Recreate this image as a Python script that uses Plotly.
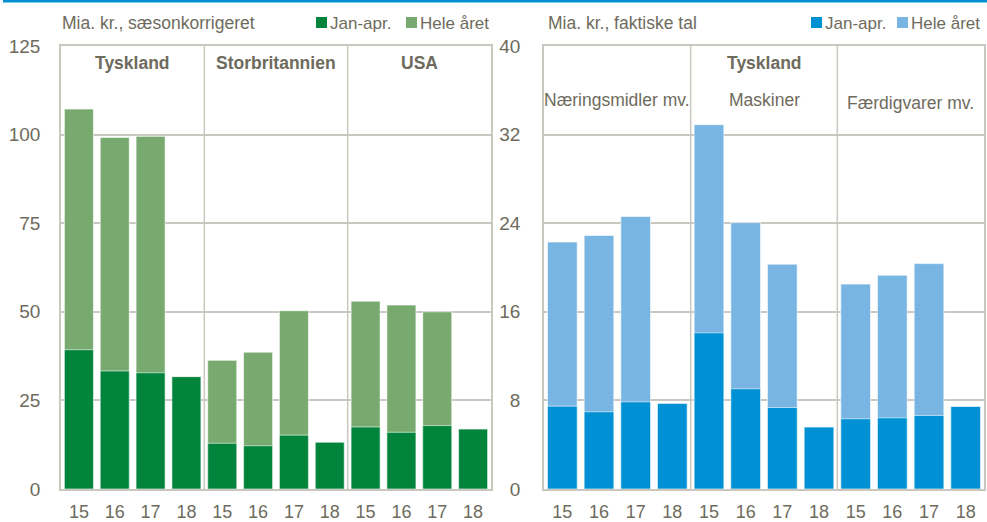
import plotly.graph_objects as go

# ---------------- data ----------------
years = ["15", "16", "17", "18"]
left_groups = ["Tyskland", "Storbritannien", "USA"]
left_hele = [107.2, 99.2, 99.5, None, 36.3, 38.6, 50.3, None, 53.0, 51.9, 50.0, None]
left_jan = [39.3, 33.3, 32.8, 31.7, 12.9, 12.2, 15.2, 13.2, 17.5, 16.0, 17.9, 16.9]

right_groups = ["Næringsmidler mv.", "Maskiner", "Færdigvarer mv."]
right_hele = [22.3, 22.9, 24.6, None, 32.9, 24.05, 20.3, None, 18.5, 19.3, 20.35, None]
right_jan = [7.48, 6.97, 7.87, 7.73, 14.1, 9.05, 7.36, 5.59, 6.34, 6.43, 6.64, 7.45]

left_ticks = [0, 25, 50, 75, 100, 125]
right_ticks = [0, 8, 16, 24, 32, 40]

series_names = ["Jan-apr.", "Hele året"]
left_title = "Mia. kr., sæsonkorrigeret"
right_title = "Mia. kr., faktiske tal"
right_super = "Tyskland"

# ---------------- style ----------------
W, H = 987, 522
FONT = "Liberation Sans Narrow, Arial Narrow, Liberation Sans, Arial, sans-serif"
TXT = "#6e6b5d"
GRID = "#c9c7be"
DKGREEN, LTGREEN = "#00843c", "#78aa6f"
DKBLUE, LTBLUE = "#0091d5", "#79b5e3"

def px(x):
    return x / W

def py(y):
    return 1 - y / H

xs = list(range(len(left_jan)))
ticktext = years * 3

fig = go.Figure()
bar_line = dict(color="rgba(255,255,255,0.6)", width=1)
fig.add_trace(go.Bar(x=xs, y=left_hele, marker=dict(color=LTGREEN, line=bar_line),
                     name=series_names[1], xaxis="x", yaxis="y", showlegend=False))
fig.add_trace(go.Bar(x=xs, y=left_jan, marker=dict(color=DKGREEN, line=bar_line),
                     name=series_names[0], xaxis="x", yaxis="y", showlegend=False))
fig.add_trace(go.Bar(x=xs, y=right_hele, marker=dict(color=LTBLUE, line=bar_line),
                     name=series_names[1], xaxis="x2", yaxis="y2", showlegend=False))
fig.add_trace(go.Bar(x=xs, y=right_jan, marker=dict(color=DKBLUE, line=bar_line),
                     name=series_names[0], xaxis="x2", yaxis="y2", showlegend=False))

ydom = [py(489), py(46)]
axis_common = dict(showline=True, linecolor=GRID, linewidth=1.5, mirror=True,
                   automargin=False)
xaxis_common = dict(axis_common, tickmode="array", tickvals=xs, ticktext=ticktext,
                    range=[-0.5, 11.5], showgrid=False, ticks="outside",
                    ticklen=6, tickcolor="rgba(0,0,0,0)", fixedrange=True,
                    tickfont=dict(family=FONT, size=18, color=TXT))
yaxis_common = dict(axis_common, showgrid=True, gridcolor=GRID, gridwidth=1.5,
                    ticks="outside", tickcolor="rgba(0,0,0,0)", zeroline=False,
                    fixedrange=True, tickfont=dict(family=FONT, size=19, color=TXT))

fig.update_layout(
    width=W, height=H,
    margin=dict(l=0, r=0, t=0, b=0, pad=0, autoexpand=False),
    paper_bgcolor="white", plot_bgcolor="white",
    barmode="overlay", bargap=0.19,
    xaxis=dict(xaxis_common, domain=[px(61), px(491)], anchor="y"),
    yaxis=dict(yaxis_common, domain=ydom, anchor="x", range=[0, 125],
               tickvals=left_ticks, ticklen=15),
    xaxis2=dict(xaxis_common, domain=[px(544), px(984)], anchor="y2"),
    yaxis2=dict(yaxis_common, domain=ydom, anchor="x2", range=[0, 40],
                tickvals=right_ticks, ticklen=18),
    font=dict(family=FONT, color=TXT),
)

shapes = []
# top blue rule
shapes.append(dict(type="line", xref="paper", yref="paper", x0=px(3), x1=1,
                   y0=py(1), y1=py(1), line=dict(color="#008fd0", width=3)))
# group separators
for xa, ya in (("x", "y"), ("x2", "y2")):
    for sep in (3.5, 7.5):
        shapes.append(dict(type="line", xref=xa, yref=ya + " domain", x0=sep, x1=sep,
                           y0=0, y1=1, line=dict(color=GRID, width=1.5), layer="below"))

annotations = []
def note(text, xref, x, y, size, xanchor="center"):
    annotations.append(dict(text=text, xref=xref, yref="paper", x=x, y=py(y),
                            xanchor=xanchor, yanchor="middle", showarrow=False,
                            font=dict(family=FONT, size=size, color=TXT)))

# group labels left
for i, g in enumerate(left_groups):
    note("<b>%s</b>" % g, "x", 1.5 + 4 * i, 63, 17.5)
# right: super label and group labels
note("<b>%s</b>" % right_super, "x2", 5.5, 63, 17.5)
for i, (g, yy) in enumerate(zip(right_groups, (100, 100, 103))):
    note(g, "x2", 1.5 + 4 * i, yy, 17.5)
# titles
note(left_title, "paper", px(60), 23, 17.5, "left")
note(right_title, "paper", px(546), 23, 17.5, "left")

# legends (square + label)
def legend_item(x_sq, x_txt, color, label):
    shapes.append(dict(type="rect", xref="paper", yref="paper", x0=px(x_sq), x1=px(x_sq + 11),
                       y0=py(28), y1=py(17), fillcolor=color, line=dict(width=0)))
    note(label, "paper", px(x_txt), 23, 17, "left")

legend_item(316, 328, DKGREEN, series_names[0])
legend_item(406, 418, LTGREEN, series_names[1])
legend_item(811, 823, DKBLUE, series_names[0])
legend_item(897, 909, LTBLUE, series_names[1])

fig.update_layout(shapes=shapes, annotations=annotations)

post = ("document.documentElement.style.margin='0';"
        "document.documentElement.style.overflow='hidden';"
        "document.body.style.margin='0';document.body.style.overflow='hidden';"
        "var d=document.getElementById('{plot_id}');"
        "d.style.position='fixed';d.style.left='0px';d.style.top='0px';")
fig.write_html("out.html", post_script=post, config={"displayModeBar": False})
